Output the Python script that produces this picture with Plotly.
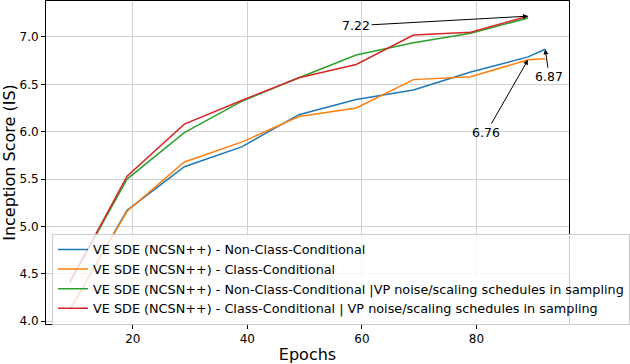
import plotly.graph_objects as go

# epochs for the two baseline runs and the two VP-schedule runs
epochs_base = [9, 19, 29, 39, 49, 59, 69, 79, 89, 92]
epochs_vp = [9, 19, 29, 39, 49, 59, 69, 79, 89]

is_non_cond = [4.12, 5.17, 5.63, 5.84, 6.18, 6.34, 6.44, 6.63, 6.79, 6.87]
is_cond = [4.12, 5.16, 5.68, 5.89, 6.16, 6.25, 6.55, 6.58, 6.76, 6.77]
is_non_cond_vp = [4.41, 5.50, 5.99, 6.32, 6.57, 6.81, 6.94, 7.04, 7.20]
is_cond_vp = [4.41, 5.53, 6.08, 6.33, 6.57, 6.71, 7.02, 7.05, 7.22]

names = [
    "VE SDE (NCSN++) - Non-Class-Conditional",
    "VE SDE (NCSN++) - Class-Conditional",
    "VE SDE (NCSN++) - Non-Class-Conditional |VP noise/scaling schedules in sampling",
    "VE SDE (NCSN++) - Class-Conditional | VP noise/scaling schedules in sampling",
]
colors = ["#1f77b4", "#ff7f0e", "#2ca02c", "#d62728"]

fig = go.Figure()
series = [(epochs_base, is_non_cond), (epochs_base, is_cond),
          (epochs_vp, is_non_cond_vp), (epochs_vp, is_cond_vp)]
for (xs, ys), name, col in zip(series, names, colors):
    fig.add_trace(go.Scatter(x=xs, y=ys, mode="lines", name=name,
                             line=dict(color=col, width=1.5)))

# annotations: (label, point x, point y, text x, text y)
notes = [
    ("7.22", 89, 7.22, 59, 7.12),
    ("6.76", 89, 6.76, 81.7, 5.99),
    ("6.87", 92, 6.87, 92.7, 6.58),
]
for label, px, py, tx, ty in notes:
    fig.add_annotation(x=px, y=py, ax=tx, ay=ty, axref="x", ayref="y",
                       text=label, showarrow=True, arrowhead=2, arrowsize=1,
                       arrowwidth=1, arrowcolor="black",
                       font=dict(size=12.5, color="black"))

axis_common = dict(showline=True, linecolor="black", linewidth=1, mirror=True,
                   ticks="outside", ticklen=4, tickcolor="black",
                   showgrid=True, gridcolor="#d0d0d0", gridwidth=1,
                   zeroline=False, tickfont=dict(size=12, color="black"))

fig.update_xaxes(range=[4.85, 96.15], tickvals=[20, 40, 60, 80],
                 title=dict(text="Epochs", font=dict(size=16, color="black"), standoff=4),
                 automargin=False, **axis_common)
fig.update_yaxes(range=[3.97, 7.38], tickvals=[4.0, 4.5, 5.0, 5.5, 6.0, 6.5, 7.0],
                 tickformat=".1f",
                 title=dict(text="Inception Score (IS)", font=dict(size=16, color="black"), standoff=2),
                 automargin=False, **axis_common)

fig.update_layout(
    width=630, height=364,
    margin=dict(l=46, r=61, t=1, b=40),
    plot_bgcolor="white", paper_bgcolor="white",
    font=dict(family="DejaVu Sans", color="black"),
    legend=dict(x=0.013, y=0.28, xanchor="left", yanchor="top",
                bgcolor="rgba(255,255,255,0.8)", bordercolor="#cccccc", borderwidth=1,
                font=dict(size=12.8), tracegroupgap=0, itemwidth=30),
    showlegend=True,
)

fig.write_html("out.html", config={"displayModeBar": False},
               post_script="document.body.style.margin='0';")
